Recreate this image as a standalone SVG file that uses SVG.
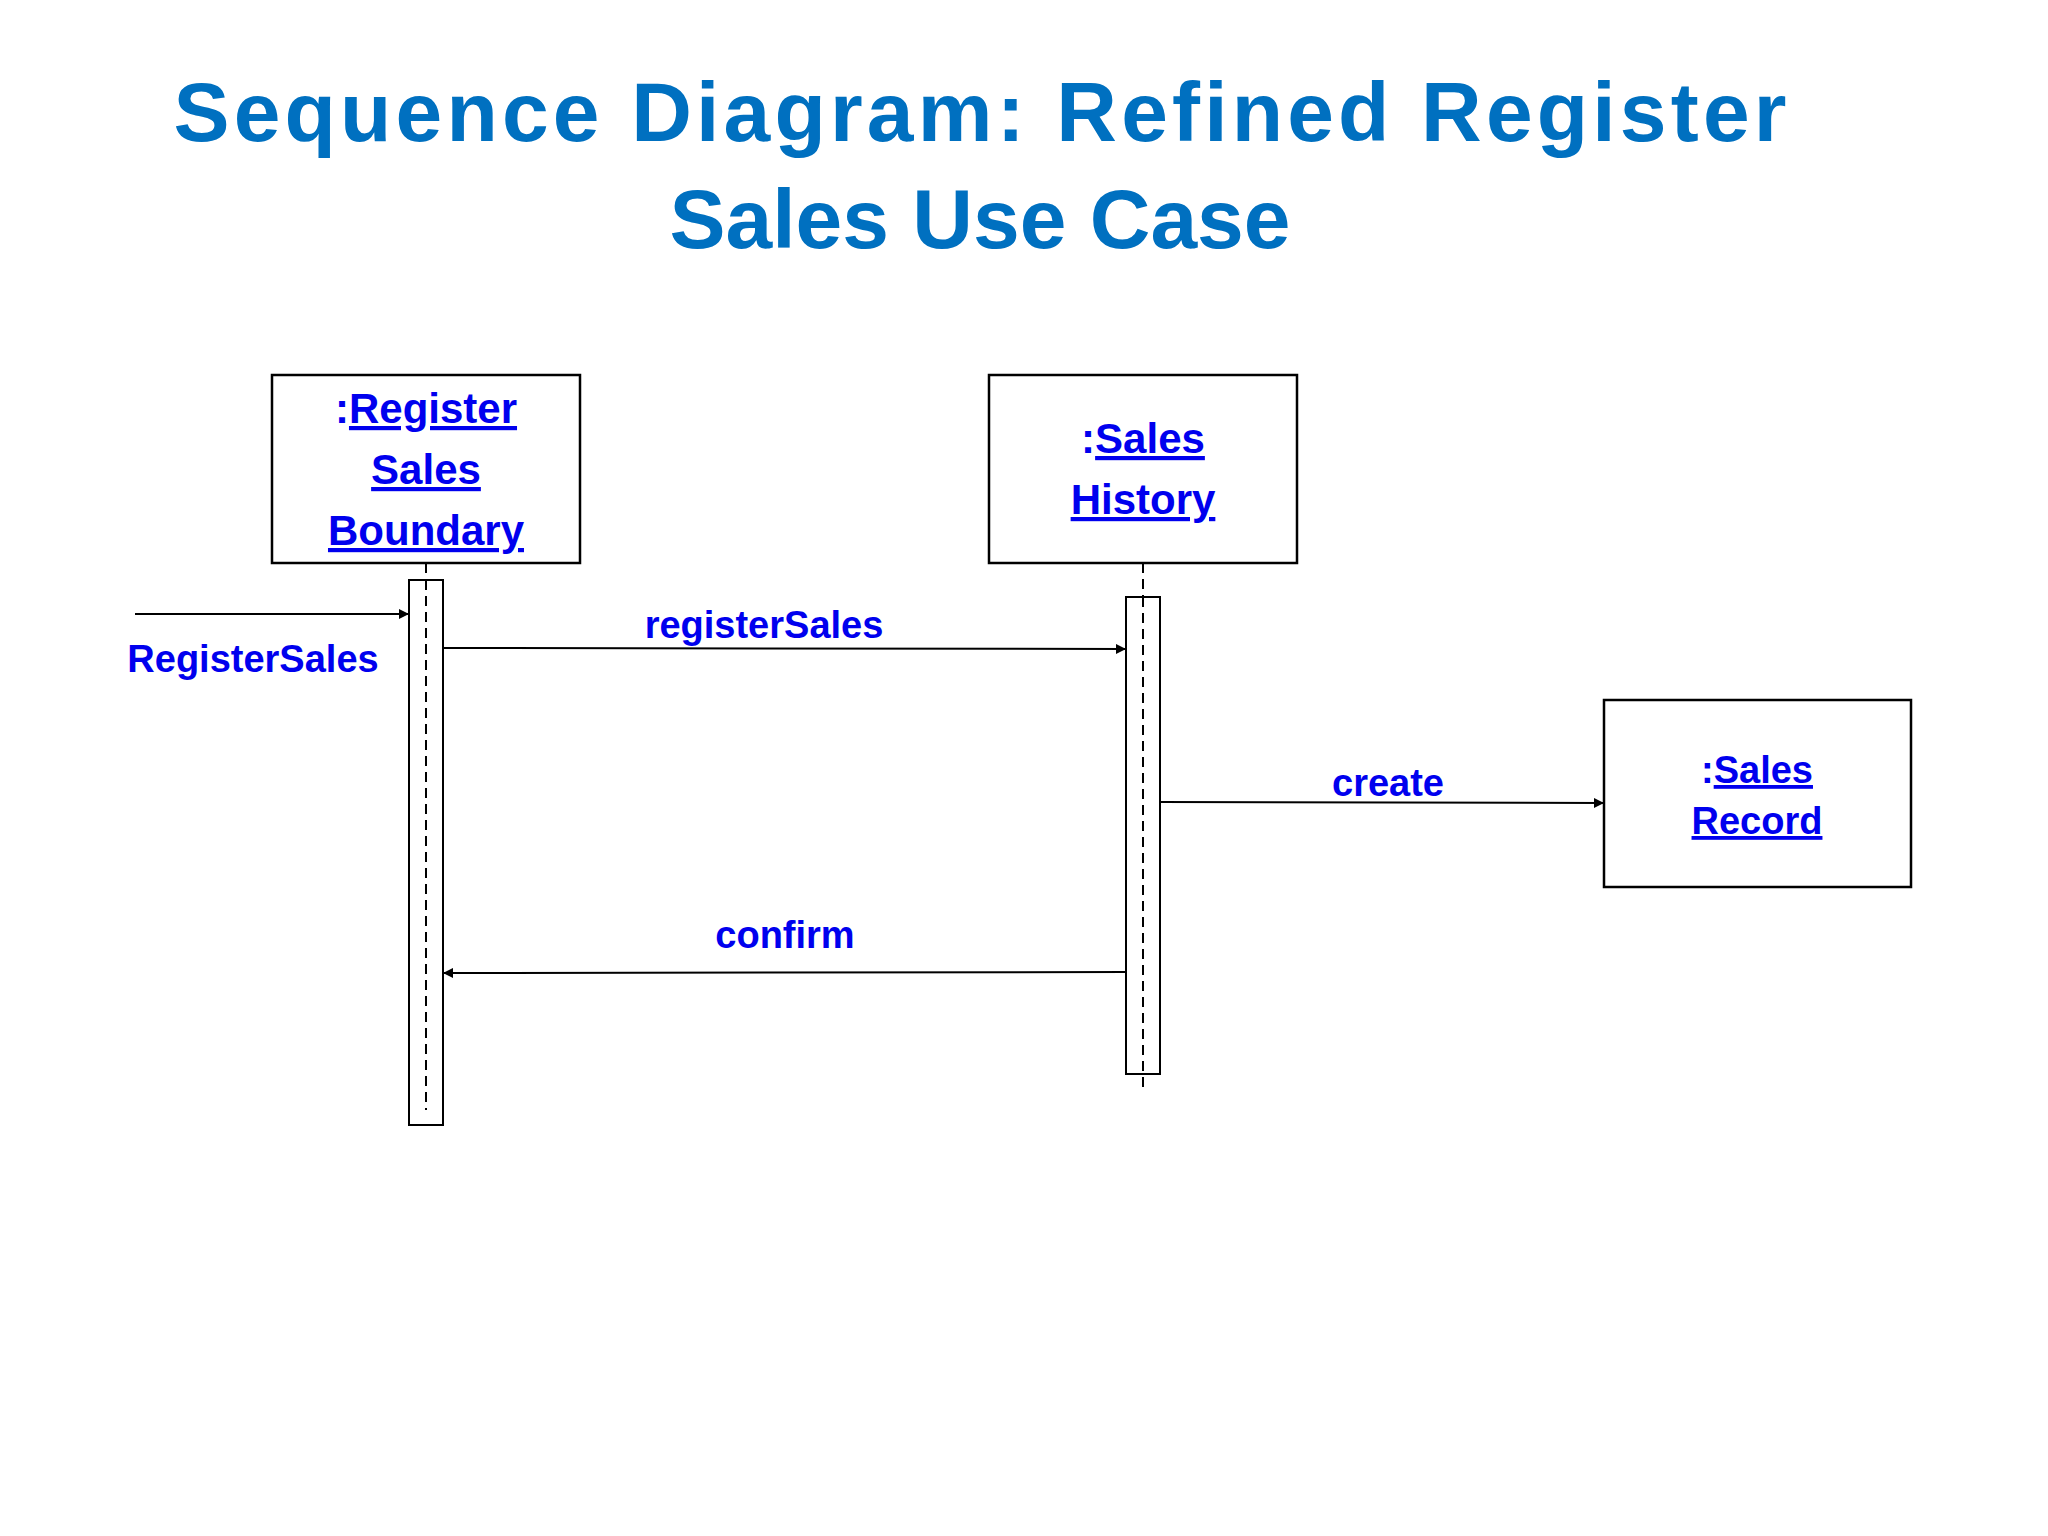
<svg xmlns="http://www.w3.org/2000/svg" width="2048" height="1536" viewBox="0 0 2048 1536">
<defs>
<marker id="ah" viewBox="0 0 10 10" refX="10" refY="5" markerWidth="10" markerHeight="10" markerUnits="userSpaceOnUse" orient="auto"><path d="M0,0 L10,5 L0,10 z" fill="#000"/></marker>
<style>
.t{font-family:"Liberation Sans",Arial,sans-serif;font-weight:bold;fill:#0070C0;font-size:84px;text-anchor:middle}
.n{font-family:"Liberation Sans",Arial,sans-serif;font-weight:bold;fill:#0000EE;font-size:42px;text-anchor:middle}
.u{text-decoration:underline}
.l{font-family:"Liberation Sans",Arial,sans-serif;font-weight:bold;fill:#0000EE;font-size:38px;text-anchor:middle}
.box{fill:#fff;stroke:#000;stroke-width:2.5}
.act{fill:#fff;stroke:#000;stroke-width:2}
.ll{stroke:#000;stroke-width:2;stroke-dasharray:10,6}
.m{stroke:#000;stroke-width:2;marker-end:url(#ah)}
</style>
</defs>
<rect width="2048" height="1536" fill="#fff"/>
<text class="t" x="980" y="141" textLength="1613">Sequence Diagram: Refined Register</text>
<text class="t" x="980" y="248">Sales Use Case</text>
<g id="boundary">
<rect class="box" x="272" y="375" width="308" height="188"/>
<line class="ll" x1="426" y1="563" x2="426" y2="580"/>
<rect class="act" x="409" y="580" width="34" height="545"/>
<line class="ll" x1="426" y1="580" x2="426" y2="1110"/>
<text class="n" x="426" y="423">:<tspan class="u">Register</tspan></text>
<text class="n u" x="426" y="484">Sales</text>
<text class="n u" x="426" y="545">Boundary</text>
</g>
<g id="history">
<rect class="box" x="989" y="375" width="308" height="188"/>
<line class="ll" x1="1143" y1="563" x2="1143" y2="597"/>
<rect class="act" x="1126" y="597" width="34" height="477"/>
<line class="ll" x1="1143" y1="597" x2="1143" y2="1092"/>
<text class="n" x="1143" y="453">:<tspan class="u">Sales</tspan></text>
<text class="n u" x="1143" y="514">History</text>
</g>
<g id="record">
<rect class="box" x="1604" y="700" width="307" height="187"/>
<text class="n" x="1757" y="783" style="font-size:38px">:<tspan class="u">Sales</tspan></text>
<text class="n u" x="1757" y="834" style="font-size:38px">Record</text>
</g>
<g id="connectors">
<line class="m" x1="135" y1="614" x2="409" y2="614"/>
<text class="l" x="253" y="672">RegisterSales</text>
<line class="m" x1="443" y1="648" x2="1126" y2="649"/>
<text class="l" x="764" y="638">registerSales</text>
<line class="m" x1="1160" y1="802" x2="1604" y2="803"/>
<text class="l" x="1388" y="796">create</text>
<line class="m" x1="1126" y1="972" x2="443" y2="973"/>
<text class="l" x="785" y="948">confirm</text>
</g>
</svg>
